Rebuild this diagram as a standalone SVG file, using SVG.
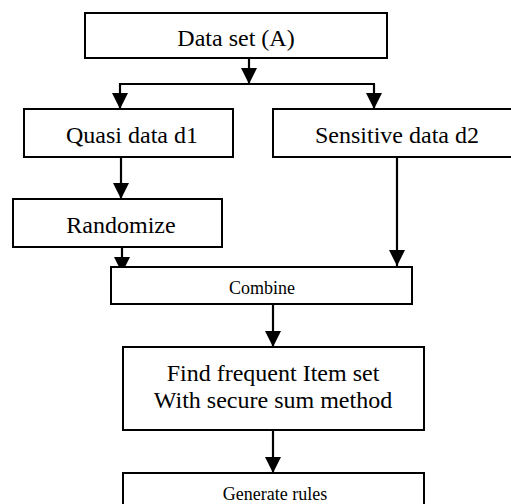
<svg xmlns="http://www.w3.org/2000/svg" width="511" height="504" viewBox="0 0 511 504">
  <style>
    .box { fill: #fff; stroke: #000; stroke-width: 2; }
    .conn { fill: none; stroke: #000; stroke-width: 2.2; }
    .t { font-family: "Liberation Serif", "Times New Roman", serif; fill: #000; text-anchor: middle; }
    .big { font-size: 24px; }
    .small { font-size: 18px; }
  </style>
  <defs>
    <marker id="arr" markerUnits="userSpaceOnUse" markerWidth="17" markerHeight="16" refX="16" refY="8" orient="auto">
      <path d="M0,0 L16,8 L0,16 z" fill="#000"/>
    </marker>
  </defs>
  <rect width="511" height="504" fill="#fff"/>
  <g id="connectors">
    <path class="conn" d="M249,58 V84" marker-end="url(#arr)"/>
    <path class="conn" d="M119,84 H375"/>
    <path class="conn" d="M120,84 V109" marker-end="url(#arr)"/>
    <path class="conn" d="M374,84 V109" marker-end="url(#arr)"/>
    <path class="conn" d="M121,157 V199" marker-end="url(#arr)"/>
    <path class="conn" d="M122,247 V273" marker-end="url(#arr)"/>
    <path class="conn" d="M397,157 V266" marker-end="url(#arr)"/>
    <path class="conn" d="M273,304 V347" marker-end="url(#arr)"/>
    <path class="conn" d="M273,430 V473" marker-end="url(#arr)"/>
  </g>
  <g id="dataset">
    <rect class="box" x="85" y="13" width="302" height="45"/>
    <text class="t big" x="236" y="46">Data set (A)</text>
  </g>
  <g id="quasi">
    <rect class="box" x="24" y="109" width="209" height="48"/>
    <text class="t big" x="132" y="143">Quasi data d1</text>
  </g>
  <g id="sensitive">
    <rect class="box" x="273" y="109" width="250" height="48"/>
    <text class="t big" x="397" y="143">Sensitive data d2</text>
  </g>
  <g id="randomize">
    <rect class="box" x="13" y="199" width="209" height="48"/>
    <text class="t big" x="121" y="233">Randomize</text>
  </g>
  <g id="combine">
    <rect class="box" x="111" y="267" width="301" height="37"/>
    <text class="t small" x="262" y="294">Combine</text>
  </g>
  <g id="find">
    <rect class="box" x="123" y="347" width="301" height="83"/>
    <text class="t big" x="273" y="381">Find frequent Item set</text>
    <text class="t big" x="273" y="408">With secure sum method</text>
  </g>
  <g id="generate">
    <rect class="box" x="123" y="473" width="301" height="50"/>
    <text class="t small" x="275" y="500">Generate rules</text>
  </g>
</svg>
